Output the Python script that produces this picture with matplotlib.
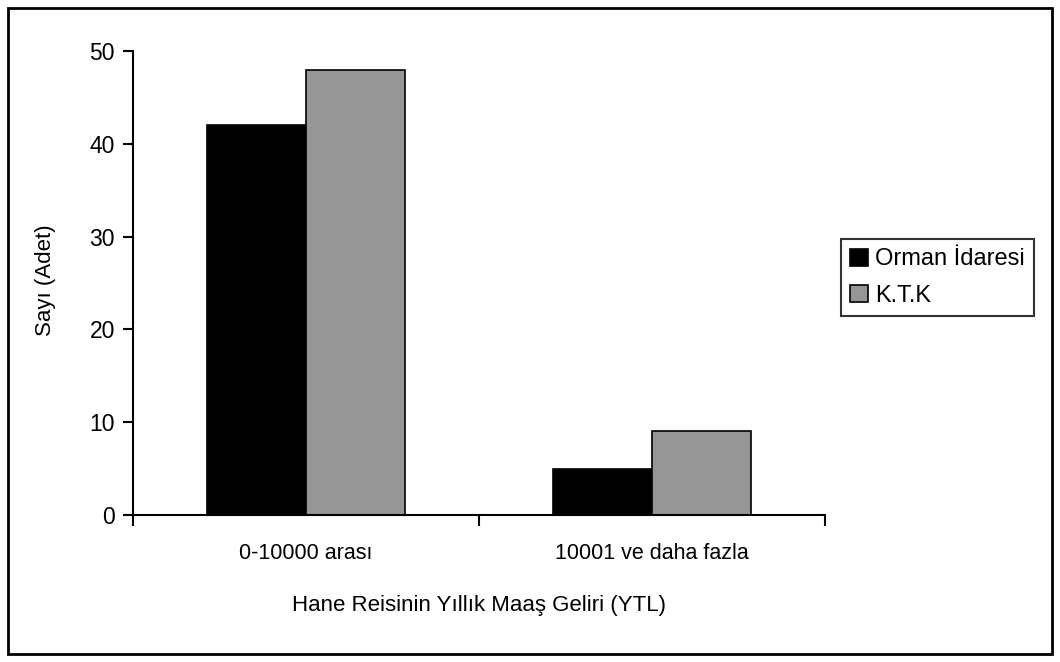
import matplotlib
matplotlib.use('Agg')
import matplotlib.pyplot as plt
from matplotlib.patches import Rectangle
import numpy as np

plt.rcParams['font.family'] = ['Liberation Sans', 'DejaVu Sans']

categories = ['0-10000 arası', '10001 ve daha fazla']
series_names = ['Orman İdaresi', 'K.T.K']
orman = [42, 5]
ktk = [48, 9]
yticks = [0, 10, 20, 30, 40, 50]

fig = plt.figure(figsize=(10.6, 6.62), dpi=100)
ax = fig.add_axes([0.1255, 0.2221, 0.6528, 0.7009])

# two bars per income group
x = np.arange(len(categories)) + 0.5
w = 0.286
ax.bar(x - w / 2, orman, w, color='black', edgecolor='black', linewidth=1.2,
       label=series_names[0])
ax.bar(x + w / 2, ktk, w, color='#969696', edgecolor='black', linewidth=1.2,
       label=series_names[1])

ax.set_xlim(0, 2)
ax.set_ylim(0, 50)
ax.set_yticks(yticks)
ax.set_xticks([0, 1, 2])
ax.set_xticklabels([])
ax.tick_params(axis='y', direction='out', length=7, width=1.5, labelsize=16.5, pad=6)
ax.tick_params(axis='x', direction='out', length=8, width=1.5)
for xi, c in zip(x, categories):
    ax.text(xi, -3.0, c, ha='center', va='top', fontsize=15.5)

for s in ['top', 'right']:
    ax.spines[s].set_visible(False)
for s in ['left', 'bottom']:
    ax.spines[s].set_linewidth(1.5)

fig.text(46 / 1060, 1 - 280 / 662, 'Sayı (Adet)', rotation=90,
         ha='center', va='center', fontsize=16)
fig.text(0.4519, 1 - 605 / 662, 'Hane Reisinin Yıllık Maaş Geliri (YTL)',
         ha='center', va='center', fontsize=16)

leg = fig.legend(loc='upper left', bbox_to_anchor=(841 / 1060, 1 - 239 / 662),
                 fontsize=17, frameon=True, fancybox=False, edgecolor='black',
                 handlelength=0.75, handleheight=0.75, handletextpad=0.3,
                 borderpad=0.4, labelspacing=0.6, borderaxespad=0)
leg.get_frame().set_linewidth(1.5)

# outer frame
fig.patches.append(Rectangle((8 / 1060, 8 / 662), 1044 / 1060, 646 / 662,
                             transform=fig.transFigure, fill=False,
                             edgecolor='black', linewidth=2))

fig.savefig('out.png', dpi=100)
